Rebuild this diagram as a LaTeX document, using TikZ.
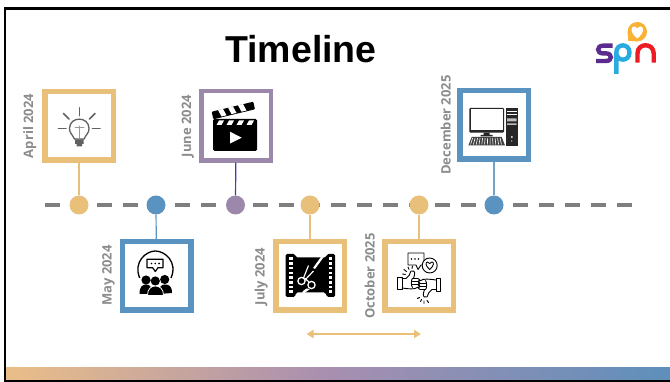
\documentclass[tikz,border=0pt]{standalone}
\usepackage{fontspec}
\setmainfont{Open Sans}
\newfontfamily\titlefont{Liberation Sans}
\usetikzlibrary{arrows.meta}
\definecolor{oran}{HTML}{E8C07A}
\definecolor{blu}{HTML}{5B93C0}
\definecolor{purp}{HTML}{9C88AB}
\definecolor{dashgrey}{HTML}{7F7F7F}
\definecolor{labgrey}{HTML}{8C8C8C}
\definecolor{barA}{HTML}{E8C46C}
\definecolor{barB}{HTML}{E8BD8A}
\definecolor{barC}{HTML}{A98FB0}
\definecolor{barD}{HTML}{5B8FBC}
\definecolor{barE}{HTML}{5098C2}
\definecolor{logoO}{HTML}{F9B233}
\definecolor{logoP}{HTML}{5B2C8E}
\definecolor{logoB}{HTML}{29ABE2}
\definecolor{logoR}{HTML}{ED1C24}
\pgfdeclarehorizontalshading{barshade}{100bp}{color(0bp)=(barA); color(26bp)=(barB); color(49bp)=(barC); color(76bp)=(barD); color(100bp)=(barE)}
\tikzset{
  x=1pt,y=-1pt,
  framebox/.style={draw=#1,fill=white,line width=5.5pt,minimum size=68.5pt,inner sep=0pt},
  dot/.style={circle,fill=#1,minimum size=19pt,inner sep=0pt},
  stem/.style={draw=#1,line width=1.2pt},
  datelabel/.style={rotate=90,anchor=base,text=labgrey,font=\fontsize{13}{13}\selectfont\bfseries,inner sep=0pt},
  thinline/.style={line width=0.9pt,black,line cap=round,line join=round},
}
\newcommand{\thumbhand}{%
  \draw (397.3,277) rectangle (402,289.5);
  \draw (402,278.5) -- (406,278.5) .. controls (409,277) and (410,273.5) .. (411,271) .. controls (413,269.5) and (415.5,271.5) .. (414.5,275) -- (413.5,278.5) -- (418,278.5) .. controls (420.5,278.5) and (420.5,281.5) .. (418,281.5) .. controls (420.5,281.5) and (420.5,284.5) .. (418,284.5) .. controls (420.5,284.5) and (420.5,287.5) .. (417,287.5) .. controls (416,289.5) and (408,289) .. (402,288);
  \draw (412.5,281.5) -- (418,281.5) (412.5,284.5) -- (418,284.5) (412.5,278.5) .. controls (411,279.5) and (411,286) .. (412.5,287.5);
}
\begin{document}
\begin{tikzpicture}
\useasboundingbox (0,0) rectangle (670,382);
\fill[white] (0,0) rectangle (670,382);
% gradient bar and frame
\shade[shading=barshade] (5,367) rectangle (670,380.5);
\draw[black,line width=2.5pt] (670,8.5) -- (5.2,8.5) -- (5.2,382);
\draw[black,line width=2pt] (5,381) -- (670,381);
% title
\node[font=\titlefont\fontsize{37.5}{37.5}\selectfont\bfseries,inner sep=0pt,anchor=base] (title) at (301,63) {Timeline};
% timeline
\coordinate (lineL) at (45,205);
\coordinate (lineR) at (633,205);
\draw[dashgrey,line width=3.6pt,dash pattern=on 15pt off 11pt] (lineL) -- (lineR);
% dots
\node[dot=oran] (d1) at (79,205) {};
\node[dot=blu] (d2) at (156,205) {};
\node[dot=purp] (d3) at (235.5,205) {};
\node[dot=oran] (d4) at (310,205) {};
\node[dot=oran] (d5) at (419,205) {};
\node[dot=blu] (d6) at (494,205) {};
% boxes
\node[framebox=oran] (b1) at (79,125.7) {};
\node[framebox=blu] (b2) at (156.5,276) {};
\node[framebox=purp,line width=4.5pt,minimum size=69.5pt] (b3) at (236,125.7) {};
\node[framebox=oran] (b4) at (310,276) {};
\node[framebox=oran] (b5) at (419,276) {};
\node[framebox=blu] (b6) at (494,125) {};
% connectors
\draw[stem=oran] (b1) -- (d1);
\draw[stem=blu] (b2) -- (d2);
\draw[stem={purp!50!blue!85!black}] (b3) -- (d3);
\draw[stem=oran] (b4) -- (d4);
\draw[stem=oran] (b5) -- (d5);
\draw[stem={blu!85!white}] (b6) -- (d6);
% labels
\node[datelabel] (l1) at (33,126) {April 2024};
\node[datelabel] (l2) at (111.5,275.5) {May 2024};
\node[datelabel] (l3) at (191,126) {June 2024};
\node[datelabel] (l4) at (264.5,276.5) {July 2024};
\node[datelabel] (l5) at (374.5,276) {October 2025};
\node[datelabel] (l6) at (450.5,125) {December 2025};
% arrow
\coordinate (aL) at (306.5,334);
\coordinate (aR) at (421,334);
\draw[oran,line width=2.4pt,{Stealth[length=7pt,width=8pt,inset=0pt]}-{Stealth[length=7pt,width=8pt,inset=0pt]}] (aL) -- (aR);
% --- bulb icon
\begin{scope}[draw=black!62,line width=1.6pt,line cap=round]
\draw (79.3,107.7) -- (79.3,115.7);
\draw (58.5,128.5) -- (66,128.5);
\draw (92.5,128.5) -- (100,128.5);
\draw (63.5,113.5) -- (69,119);
\draw (95,113.5) -- (89.5,119);
\draw[line width=1.3pt] (74.5,139) .. controls (72,134) and (69.5,133) .. (69.5,128.5) .. controls (69.5,116) and (89,116) .. (89,128.5) .. controls (89,133) and (86.5,134) .. (84,139) -- cycle;
\draw[line width=1pt,black!40] (75,128) -- (84,128) (79.3,126) -- (79.3,139);
\fill[black!62] (75,139.5) rectangle (83.5,144) (76.5,144) rectangle (82,146.5);
\end{scope}
% --- clapper icon
\fill[black,rounded corners=1pt] (211.7,111.7) -- (253.3,101.7) -- (255,109.3) -- (213.3,119.3) -- cycle;
\fill[white] (218,110) -- (223,108.9) -- (226.5,115.3) -- (221.5,116.5) -- cycle
 (228,107.6) -- (233,106.4) -- (236.5,112.9) -- (231.5,114.1) -- cycle
 (238,105.2) -- (243,104) -- (246.5,110.5) -- (241.5,111.7) -- cycle;
\fill[black,rounded corners=1.5pt] (213,119) rectangle (257,151);
\fill[white] (219,120.5) -- (224,120.5) -- (221.5,125) -- (216.5,125) -- cycle
 (229,120.5) -- (234,120.5) -- (231.5,125) -- (226.5,125) -- cycle
 (239,120.5) -- (244,120.5) -- (241.5,125) -- (236.5,125) -- cycle
 (249,120.5) -- (254,120.5) -- (251.5,125) -- (246.5,125) -- cycle;
\fill[white] (230,131.7) -- (241.7,137.7) -- (230,143.5) -- cycle;
% --- people icon
\draw[black,line width=1.3pt] (139.7,278) .. controls (133,262) and (146,251) .. (155.3,251) .. controls (165,251) and (178,262) .. (171,278);
\draw[black,line width=1.2pt,fill=white,line join=round] (147,259.3) -- (163,259.3) -- (163,267.7) -- (158,267.7) -- (155.3,271.5) -- (152.6,267.7) -- (147,267.7) -- cycle;
\fill[black] (151.5,263.5) circle[radius=0.9] (155.3,263.5) circle[radius=0.9] (159.1,263.5) circle[radius=0.9];
\fill[black] (146,280) circle[radius=4.6] (155.3,281) circle[radius=4.6] (164.7,279.5) circle[radius=4.6];
\fill[black] (139.5,294) .. controls (139.5,286) and (143,284.5) .. (146,284.5) .. controls (150,284.5) and (152,287) .. (152,294) -- cycle;
\fill[black] (159,294) .. controls (159,287) and (161,284.5) .. (165,284.5) .. controls (169,284.5) and (172,286) .. (172,293) -- cycle;
\fill[black,draw=white,line width=0.8pt] (147.5,295.5) .. controls (147.5,289) and (151,286) .. (155.3,286) .. controls (160,286) and (163.5,289) .. (163.5,295.5) -- cycle;
% --- film cut icon
\fill[black,rounded corners=1.5pt] (285.7,254) -- (295,254) -- (296,257.5) -- (326,257.5) -- (327,254) -- (335,254) -- (335,297) -- (327,297) -- (325.5,292.5) -- (296,292.5) -- (295,297) -- (285.7,297) -- cycle;
\foreach \yy in {257.5,262.2,266.9,271.6,276.3,281,285.7,290.4}{
  \fill[white] (289,\yy) rectangle (292.5,\yy+2.6);
  \fill[white] (328.7,\yy) rectangle (332.2,\yy+2.6);
}
\fill[white] (322,255.5) -- (324.5,256) -- (315,269) -- (313,268) -- cycle;
\fill[white] (303,291) -- (306.5,288.5) -- (310,289) -- (301,295.5) -- cycle;
\draw[white,line width=1.2pt] (303.5,278) -- (308.5,265.5);
\draw[white,line width=1.2pt] (304.5,280.5) -- (313.5,271);
\draw[white,line width=1.2pt] (304.5,278) -- (309,282);
\draw[white,line width=1.3pt,fill=black] (301.5,281) circle[radius=3.6] (311.5,285) circle[radius=3.6];
% --- feedback icon
\begin{scope}[thinline]
\draw (408,253) -- (424,253) -- (424,265) -- (421,265) -- (418,269.5) -- (416,265) -- (408,265) -- cycle;
\fill (411.5,259) circle[radius=0.8] (415,259) circle[radius=0.8] (418.5,259) circle[radius=0.8];
\draw[fill=white] (429.7,265.5) circle[radius=7.5];
\draw (429.7,269.5) .. controls (425,265.5) and (425.5,262) .. (427.5,262) .. controls (428.5,262) and (429.3,262.7) .. (429.7,263.5) .. controls (430.1,262.7) and (431,262) .. (432,262) .. controls (434,262) and (434.5,265.5) .. (429.7,269.5);
\thumbhand
\begin{scope}[rotate around={180:(419,284)}]
\thumbhand
\end{scope}
% sparks
\draw (409,269.5) -- (408,267) (406.5,271.5) -- (404,269.5) (405.5,274.5) -- (402.5,274) (412,268.5) -- (412.5,266);
\draw (421.5,299.5) -- (420.5,301.5) (424,301) -- (424,303.5) (427,300.5) -- (428.5,302.5) (419.5,297.5) -- (417.5,298.5);
\end{scope}
% --- computer icon
\fill[black!85,rounded corners=1pt] (469.3,108) rectangle (504,132.7);
\fill[white] (470.6,109.2) rectangle (502.8,129.8);
\fill[black!85] (483.5,132.7) rectangle (489.5,135) (480.7,135) rectangle (492.7,136.3);
\fill[black!75] (471.7,137) -- (501.7,137) -- (505,145.5) -- (468.3,145.5) -- cycle;
\foreach \xx in {0,1,...,11}{
  \draw[white,line width=0.6pt] (472.6+2.5*\xx,138) -- (470.6+2.8*\xx,144.5);
}
\fill[black!85] (506,108.3) rectangle (517.7,145.7);
\fill[white!75!black] (507,118.5) rectangle (516.7,121.5) (507,123.5) rectangle (516.7,125);
\draw[white,line width=0.5pt] (507,111) -- (516.7,111) (507,114) -- (516.7,114);
\fill[white] (511.8,137) circle[radius=1] (511.8,141) circle[radius=0.6];
% --- logo
\fill[logoO] (637.3,31.7) circle[radius=9.7];
\fill[logoO] (627.6,31.7) -- (628.3,40.8) -- (637.3,41.4) -- cycle;
\fill[white] (637.3,38.5) .. controls (630,33) and (630.5,26.5) .. (634,26.5) .. controls (635.5,26.5) and (636.7,27.5) .. (637.3,28.7) .. controls (637.9,27.5) and (639.1,26.5) .. (640.6,26.5) .. controls (644.1,26.5) and (644.6,33) .. (637.3,38.5) -- cycle;
\draw[logoP,line width=4.4pt] (612.5,45.7) -- (603,45.7) .. controls (596.5,45.7) and (596.5,53.4) .. (603,53.4) -- (606,53.4) .. controls (612.5,53.4) and (612.5,61) .. (606,61) -- (596,61);
\draw[logoB,line width=4.4pt] (616.3,74) -- (616.3,52.5) .. controls (616.3,43) and (629.5,43) .. (629.5,52.5) .. controls (629.5,62) and (616.3,62) .. (616.3,52.5);
\draw[logoR,line width=4.4pt] (637.5,62.7) -- (637.5,53.5) .. controls (637.5,42.5) and (653.7,42.5) .. (653.7,53.5) -- (653.7,62.7);
\end{tikzpicture}
\end{document}
